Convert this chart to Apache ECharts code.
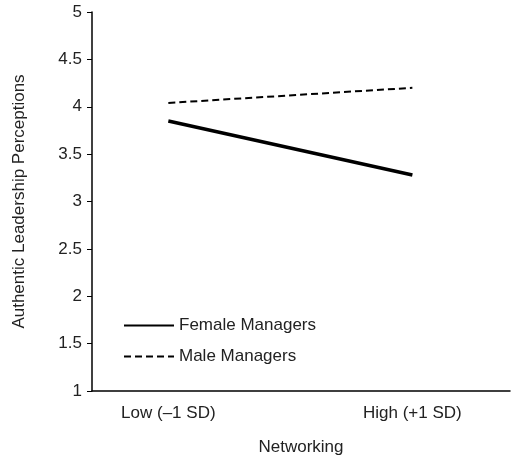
<!DOCTYPE html>
<html><head><meta charset="utf-8">
<script src="https://cdn.jsdelivr.net/npm/echarts@6/dist/echarts.min.js"></script>
<style>html,body{margin:0;background:#fff}#c{width:520px;height:461px}</style>
</head><body><div id="c"></div>
<script>
var xPos = [0, 1];
var xLabels = ['Low (\u20131 SD)', 'High (+1 SD)'];
var female = [3.85, 3.28];
var male = [4.04, 4.2];
var yTicks = [1, 1.5, 2, 2.5, 3, 3.5, 4, 4.5, 5];

var font = 'Liberation Sans, Arial, sans-serif';
var chart = echarts.init(document.getElementById('c'));
chart.setOption({
  animation: false,
  grid: { left: 92, right: 10, top: 12, bottom: 70 },
  legend: {
    orient: 'vertical', left: 118, top: 312, itemWidth: 50, itemHeight: 14, itemGap: 14,
    itemStyle: { opacity: 0 },
    textStyle: { fontSize: 17, color: '#222', fontFamily: font },
    data: ['Female Managers', 'Male Managers']
  },
  xAxis: {
    type: 'value', min: -0.3128, max: 1.4,
    name: 'Networking', nameLocation: 'middle', nameGap: 48,
    nameTextStyle: { fontSize: 17, color: '#222', fontFamily: font },
    splitLine: { show: false },
    axisLine: { onZero: false, lineStyle: { color: '#000', width: 1.5 } },
    axisTick: { show: false },
    axisLabel: {
      customValues: xPos, fontSize: 17, color: '#222', fontFamily: font, margin: 14,
      formatter: function (v) { return xLabels[xPos.indexOf(v)] || ''; }
    }
  },
  yAxis: {
    type: 'value', min: 1, max: 5, interval: 0.5,
    name: 'Authentic Leadership Perceptions', nameLocation: 'middle', nameGap: 64,
    nameTextStyle: { fontSize: 17, color: '#222', fontFamily: font },
    splitLine: { show: false },
    axisLine: { show: true, onZero: false, lineStyle: { color: '#000', width: 1.5 } },
    axisTick: { show: true, inside: false, length: 5, lineStyle: { color: '#000' } },
    axisLabel: {
      fontSize: 17, color: '#222', fontFamily: font, margin: 10,
      formatter: function (v) { return yTicks.indexOf(v) >= 0 ? String(v) : ''; }
    }
  },
  series: [
    { name: 'Female Managers', type: 'line', symbol: 'none',
      lineStyle: { color: '#000', width: 3.5 }, itemStyle: { color: '#000' },
      data: xPos.map(function (x, i) { return [x, female[i]]; }) },
    { name: 'Male Managers', type: 'line', symbol: 'none',
      lineStyle: { color: '#000', width: 2, type: [7, 4] }, itemStyle: { color: '#000' },
      data: xPos.map(function (x, i) { return [x, male[i]]; }) }
  ]
});
</script></body></html>
